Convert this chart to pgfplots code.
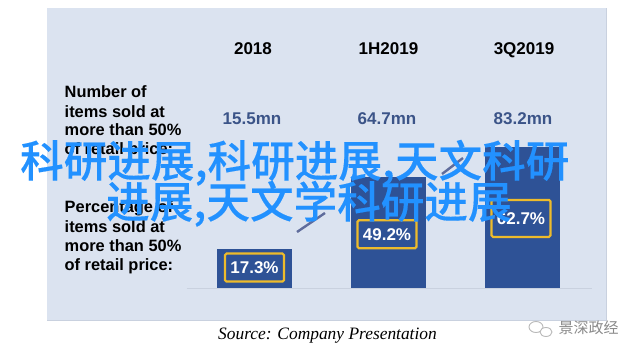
\documentclass[border=0pt]{standalone}
\usepackage{pgfplots}
\pgfplotsset{compat=1.18}
\usepackage{fontspec}
\setmainfont{Liberation Sans}
\newfontfamily\serifit{Liberation Serif}
\newfontfamily\cjk{Noto Sans CJK SC}
\newfontfamily\cjkm[UprightFont={* Medium},FakeBold=0.25]{Noto Sans CJK SC}
\definecolor{panel}{HTML}{DBE3F0}
\definecolor{paneledge}{HTML}{C9D1DF}
\definecolor{barblue}{HTML}{2E5296}
\definecolor{numblue}{HTML}{3B5488}
\definecolor{gold}{HTML}{EDBB2C}
\definecolor{wm}{HTML}{2291FF}
\definecolor{arrowc}{HTML}{5F6C9C}
\definecolor{logoc}{HTML}{8A8A8A}
\pgfplotsset{lab/.style n args={3}{
  ybar,bar width=75pt,bar shift=0pt,draw=none,fill=barblue,
  point meta=y,
  nodes near coords={\pgfmathprintnumber[fixed,precision=1,zerofill,assume math mode=true]{\pgfplotspointmeta}\%},
  nodes near coords style={anchor=center,xshift=#1,yshift=#2,draw=gold,line width=2.2pt,
    rounded corners=1.5pt,text=white,font=\fontsize{17}{17}\selectfont\bfseries,
    inner sep=0pt,minimum width=59pt,minimum height=#3}
}}
\begin{document}
\begin{tikzpicture}[x=1pt,y=1pt]
\useasboundingbox (0,0) rectangle (640,354);
\fill[white] (0,0) rectangle (640,354);
\fill[panel] (47,33) rectangle (607,346);
\draw[paneledge,line width=1.2pt] (606.5,33) -- (606.5,346);
\draw[paneledge,line width=0.5pt] (47,33.3) -- (606,33.3);
\begin{axis}[
  at={(47pt,33pt)},anchor=south west,
  width=560pt,height=313pt,scale only axis,
  xmin=-1.5485,xmax=2.6306,ymin=-14.667,ymax=124.444,
  axis lines=none,clip=false,
]
\draw[paneledge,line width=0.5pt] (axis cs:-0.504,0) -- (axis cs:2.52,0);
\addplot[lab={0pt}{-18.5pt}{28pt}] coordinates {(0,17.3)};
\addplot[lab={-1.5pt}{-57pt}{28pt}] coordinates {(1,49.2)};
\addplot[lab={-1.5pt}{-71.5pt}{37pt}] coordinates {(2,62.7)};
\end{axis}
% headers
\begin{scope}[every node/.style={anchor=base,inner sep=0pt,font=\fontsize{17}{17}\selectfont\bfseries}]
\node at (253,299) {2018};
\node at (388.5,299) {1H2019};
\node at (524,299) {3Q2019};
\node[text=numblue] at (252,229) {15.5mn};
\node[text=numblue] at (387,229) {64.7mn};
\node[text=numblue] at (523,229) {83.2mn};
\end{scope}
% row labels
\begin{scope}[every node/.style={anchor=base west,inner sep=0pt,font=\fontsize{16.4}{16.4}\selectfont\bfseries}]
\node at (64.5,256) {Number of};
\node at (64.5,236.5) {items sold at};
\node at (64.5,218) {more than 50\%};
\node at (64.5,199) {of retail price:};
\node at (64.5,141.3) {Percentage of};
\node at (64.5,122) {items sold at};
\node at (64.5,103) {more than 50\%};
\node at (64.5,84) {of retail price:};
\end{scope}
\node[anchor=base,inner sep=0pt,font=\fontsize{17.4}{17.4}\serifit\itshape] at (327.5,15) {Source: Company Presentation};
% arrow fragments
\draw[arrowc,line width=2.4pt] (297,122) -- (325,141);
\draw[arrowc,line width=2.4pt] (442,180) -- (463,196);
% logo
\draw[logoc!60,line width=0.9pt,fill=white] (536,27) ellipse (7 and 5.5);
\draw[logoc!60,line width=0.9pt,fill=white] (546,22) ellipse (6 and 4.5);
\node[anchor=base west,inner sep=0pt,text=logoc,font=\fontsize{15}{15}\cjk] at (558.5,21) {景深政经};
% watermark
\node[anchor=base west,inner sep=0pt,text=wm,font=\fontsize{43.6}{43.6}\cjkm] at (20,177) {科研进展,科研进展,天文科研};
\node[anchor=base west,inner sep=0pt,text=wm,font=\fontsize{43.6}{43.6}\cjkm] at (106,136) {进展,天文学科研进展};
\end{tikzpicture}
\end{document}
